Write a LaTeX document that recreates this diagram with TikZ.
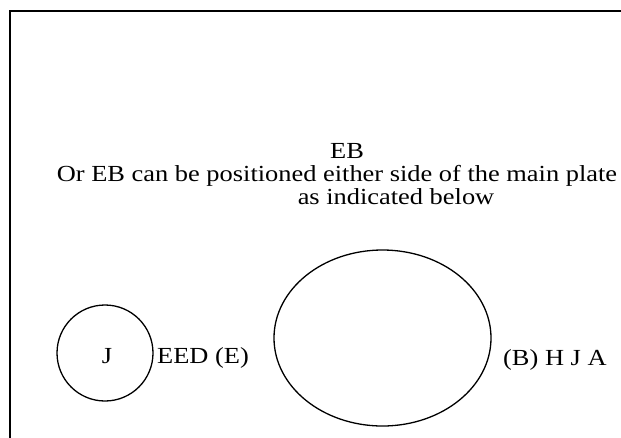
\documentclass[tikz,border=0pt]{standalone}
\usepackage{fontspec}
\setmainfont[FakeStretch=1.148]{Liberation Serif}
\usetikzlibrary{shapes.geometric}
\begin{document}
\begin{tikzpicture}[x=1pt,y=-1pt,
  txt/.style={inner sep=0pt,anchor=base,font=\fontsize{23}{27}\selectfont},
  frame/.style={line width=2pt},
  shp/.style={draw,line width=1.3pt,inner sep=0pt}]
\useasboundingbox (0,0) rectangle (621,437);
\begin{scope}
\clip (0,0) rectangle (621,437);
\draw[frame] (10,460) -- (10,11) -- (640,11);
\end{scope}
\node[txt] (eb) at (347,158) {EB};
\node[txt] (l2) at (337,181) {Or EB can be positioned either side of the main plate};
\node[txt] (l3) at (396,204) {as indicated below};
\node[shp,circle,minimum size=96pt] (jc) at (105,353) {};
\node[txt] (j) at (107,363) {J};
\node[txt,anchor=base west] (eed) at (157,363) {EED (E)};
\node[shp,ellipse,minimum width=217pt,minimum height=176pt] (plate) at (382.5,338) {};
\node[txt,anchor=base west] (bhja) at (503,365) {(B) H J A};
\end{tikzpicture}
\end{document}
